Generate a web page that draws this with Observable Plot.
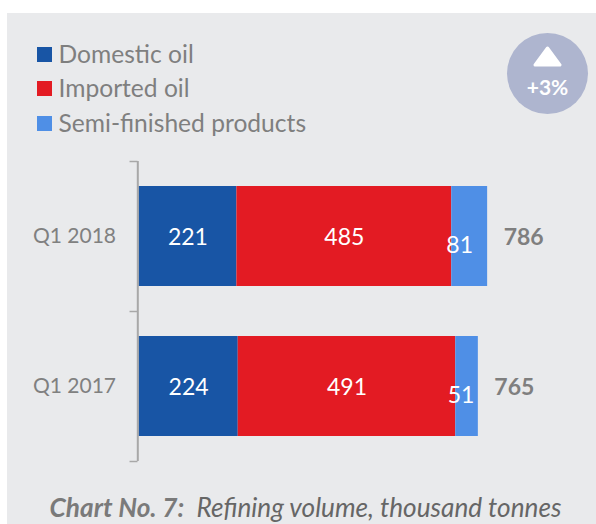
<!DOCTYPE html>
<html>
<head>
<meta charset="utf-8">
<script src="https://cdn.jsdelivr.net/npm/d3@7"></script>
<script src="https://cdn.jsdelivr.net/npm/@observablehq/plot@0.6"></script>
<style>
  html, body { margin: 0; padding: 0; background: #fff; }
  #page { position: relative; width: 596px; height: 524px; overflow: hidden; font-family: Lato, "Open Sans", sans-serif; }
  #panel { position: absolute; left: 7px; top: 13px; right: 0; bottom: 0; background: #e9eaec; }
  #chart { position: absolute; left: 0; top: 150px; }
  .key { position: absolute; left: 37px; height: 15px; width: 400px; }
  .key i { position: absolute; left: 0; top: 0; width: 15px; height: 15px; }
  .key span { position: absolute; left: 21.5px; top: 50%; transform: translateY(-50%); margin-top: -1px; font-size: 24.6px; line-height: 30px; color: #7f7f7f; white-space: nowrap; }
  #badge { position: absolute; left: 507px; top: 33px; width: 81px; height: 81px; border-radius: 50%; background: #aeb5cf; }
  #badge svg { position: absolute; left: 26px; top: 13px; }
  #badge div { position: absolute; left: 0; right: 0; top: 41px; text-align: center; color: #fff; font-size: 21px; font-weight: 700; line-height: 26px; }
  #caption { position: absolute; left: 7px; right: 0; top: 492px; text-align: center; font-size: 26.2px; line-height: 30px; font-style: italic; color: #666; white-space: pre; transform: translateX(4px); }
  #caption b { color: #7a7a7a; }
</style>
</head>
<body>
<div id="page">
  <div id="panel"></div>
  <div id="legend"></div>
  <div id="badge">
    <svg width="29" height="21" viewBox="0 0 29 21"><path d="M14.5 2 L27 19 H2 Z" fill="#fff" stroke="#fff" stroke-width="3" stroke-linejoin="round"/></svg>
    <div id="change"></div>
  </div>
  <div id="chart"></div>
  <div id="caption"></div>
</div>
<script>
// Refining volume by crude source, thousand tonnes
const quarters = ["Q1 2018", "Q1 2017"];
const seriesNames = ["Domestic oil", "Imported oil", "Semi-finished products"];
const seriesColors = ["#1855a5", "#e31b23", "#4f8fe6"];
const domestic = [221, 224];
const imported = [485, 491];
const semiFinished = [81, 51];
const totals = [786, 765];
const changeLabel = "+3%";
const captionLead = "Chart No. 7:";
const captionRest = "  Refining volume, thousand tonnes";

const rows = quarters.flatMap((quarter, i) => [
  {quarter, series: seriesNames[0], value: domestic[i]},
  {quarter, series: seriesNames[1], value: imported[i]},
  {quarter, series: seriesNames[2], value: semiFinished[i]}
]);
const summary = quarters.map((quarter, i) => ({
  quarter,
  end: domestic[i] + imported[i] + semiFinished[i],
  total: totals[i]
}));

const stack = (extra = {}) => Plot.stackX({
  x: "value", y: "quarter", z: "series", order: null, ...extra
});
// The two narrow segments carry their labels nudged left and low
const narrowLabel = (quarter, dx) => Plot.text(
  rows,
  stack({
    text: (d) => d.quarter === quarter && d.series === seriesNames[2] ? d.value : null,
    fill: "#fff", fontSize: 23, dx, dy: 9
  })
);
const boundary = (quarter, dy) => Plot.ruleY([quarter], {
  x1: -18, x2: 0, dx: -1, dy, stroke: "#a8a8a8", strokeWidth: 1.5
});

const chart = Plot.plot({
  width: 596,
  height: 330,
  marginLeft: 138.5,
  marginRight: 14.5,
  marginTop: 11,
  marginBottom: 19,
  style: {background: "transparent", fontFamily: "Lato, 'Open Sans', sans-serif"},
  x: {domain: [0, 1000], axis: null},
  y: {domain: quarters, paddingInner: 1 / 3, paddingOuter: 1 / 6, label: null},
  color: {domain: seriesNames, range: seriesColors},
  marks: [
    Plot.axisY({tickSize: 0, tickPadding: 23, fontSize: 21, fill: "#808080", label: null}),
    Plot.barX(rows, stack({fill: "series"})),
    Plot.ruleX([0], {dx: -1.2, stroke: "#a8a8a8", strokeWidth: 2}),
    boundary(quarters[0], -75),
    boundary(quarters[1], -75),
    boundary(quarters[1], 75),
    Plot.text(rows, stack({
      text: (d) => d.series === seriesNames[2] ? null : d.value,
      fill: "#fff", fontSize: 23, dy: 1
    })),
    narrowLabel(quarters[0], -10),
    narrowLabel(quarters[1], -6),
    Plot.text(summary, {
      x: "end", y: "quarter", text: "total", textAnchor: "start",
      dx: 16, dy: 1, fill: "#7f7f7f", fontSize: 23, fontWeight: 700
    })
  ]
});
document.getElementById("chart").append(chart);

// Legend entries
const legend = document.getElementById("legend");
const keyTops = [47, 81, 116];
seriesNames.forEach((name, i) => {
  const row = document.createElement("div");
  row.className = "key";
  row.style.top = keyTops[i] + "px";
  const swatch = document.createElement("i");
  swatch.style.background = seriesColors[i];
  const label = document.createElement("span");
  label.textContent = name;
  row.append(swatch, label);
  legend.append(row);
});

document.getElementById("change").textContent = changeLabel;

const caption = document.getElementById("caption");
const lead = document.createElement("b");
lead.textContent = captionLead;
caption.append(lead, captionRest);
</script>
</body>
</html>
